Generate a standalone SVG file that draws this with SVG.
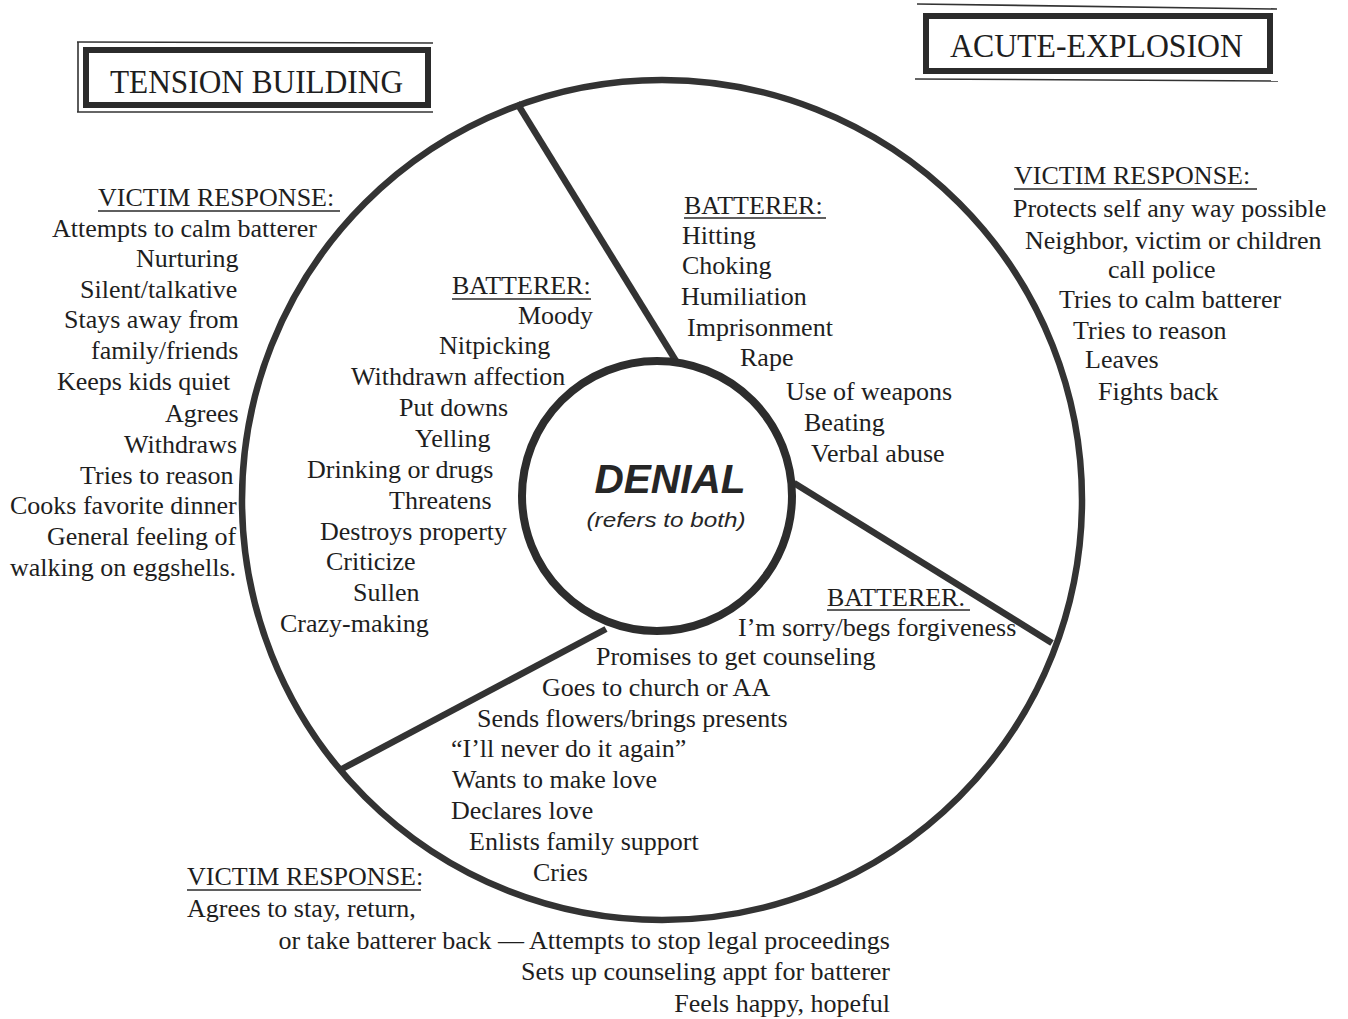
<svg xmlns="http://www.w3.org/2000/svg" width="1348" height="1019" viewBox="0 0 1348 1019">
<style>
  .t { font-family: "Liberation Serif", "Times New Roman", serif; font-size: 26px; fill: #1e1e1e; }
  .h { font-family: "Liberation Serif", "Times New Roman", serif; fill: #1e1e1e; }
  .ul { stroke: #2a2a2a; stroke-width: 1.6; }
  .ring { fill: none; stroke: #333; stroke-width: 6.5; }
  .div { stroke: #333; stroke-width: 6.5; stroke-linecap: butt; }
  .thin { fill: none; stroke: #333; stroke-width: 1.6; }
  .thick { fill: none; stroke: #2b2b2b; stroke-width: 6; }
</style>
<rect width="1348" height="1019" fill="#ffffff"/>

<g id="title-tension">
  <line class="thin" x1="77" y1="42" x2="433" y2="43"/>
  <line class="thin" x1="77" y1="112" x2="433" y2="112"/>
  <line class="thin" x1="78" y1="42" x2="78" y2="112"/>
  <rect class="thick" x="86" y="50" width="342" height="55"/>
  <text class="h" x="110" y="93" font-size="33" textLength="293" lengthAdjust="spacingAndGlyphs">TENSION BUILDING</text>
</g>

<g id="title-acute">
  <line class="thin" x1="917" y1="4" x2="1277" y2="9"/>
  <line class="thin" x1="915" y1="79" x2="1278" y2="81"/>
  <rect class="thick" x="926" y="16" width="344" height="55"/>
  <text class="h" x="950" y="57" font-size="34" textLength="293" lengthAdjust="spacingAndGlyphs">ACUTE-EXPLOSION</text>
</g>

<g id="wheel">
  <circle class="ring" cx="662" cy="500" r="420"/>
</g>

<g id="connectors">
  <line class="div" x1="517" y1="103" x2="676" y2="361"/>
  <line class="div" x1="794" y1="483" x2="1052" y2="643"/>
  <line class="div" x1="606" y1="629" x2="340" y2="770"/>
</g>

<g id="denial">
  <circle cx="657" cy="496" r="135" fill="#fff" stroke="#2d2d2d" stroke-width="8"/>
  <text x="670" y="493" text-anchor="middle" font-family="Liberation Sans, Arial, sans-serif" font-size="40" font-weight="bold" font-style="italic" fill="#262626" textLength="151" lengthAdjust="spacingAndGlyphs">DENIAL</text>
  <text x="666" y="527" text-anchor="middle" font-family="Liberation Sans, Arial, sans-serif" font-size="21" font-style="italic" fill="#262626" textLength="159" lengthAdjust="spacingAndGlyphs">(refers to both)</text>
</g>

<g id="tension-victim">
  <text class="t" x="98" y="206">VICTIM RESPONSE:</text>
  <line class="ul" x1="98" y1="211" x2="340" y2="211"/>
  <text class="t" x="52" y="237">Attempts to calm batterer</text>
  <text class="t" x="136" y="267">Nurturing</text>
  <text class="t" x="80" y="298">Silent/talkative</text>
  <text class="t" x="64" y="328">Stays away from</text>
  <text class="t" x="91" y="359">family/friends</text>
  <text class="t" x="57" y="390">Keeps kids quiet</text>
  <text class="t" x="165" y="422">Agrees</text>
  <text class="t" x="124" y="453">Withdraws</text>
  <text class="t" x="80" y="484">Tries to reason</text>
  <text class="t" x="10" y="514">Cooks favorite dinner</text>
  <text class="t" x="47" y="545">General feeling of</text>
  <text class="t" x="10" y="576">walking on eggshells.</text>
</g>

<g id="tension-batterer">
  <text class="t" x="452" y="294">BATTERER:</text>
  <line class="ul" x1="452" y1="299" x2="591" y2="299"/>
  <text class="t" x="518" y="324">Moody</text>
  <text class="t" x="439" y="354">Nitpicking</text>
  <text class="t" x="351" y="385">Withdrawn affection</text>
  <text class="t" x="399" y="416">Put downs</text>
  <text class="t" x="415" y="447">Yelling</text>
  <text class="t" x="307" y="478">Drinking or drugs</text>
  <text class="t" x="389" y="509">Threatens</text>
  <text class="t" x="320" y="540">Destroys property</text>
  <text class="t" x="326" y="570">Criticize</text>
  <text class="t" x="353" y="601">Sullen</text>
  <text class="t" x="280" y="632">Crazy-making</text>
</g>

<g id="acute-batterer">
  <text class="t" x="684" y="214">BATTERER:</text>
  <line class="ul" x1="684" y1="218" x2="826" y2="218"/>
  <text class="t" x="682" y="244">Hitting</text>
  <text class="t" x="682" y="274">Choking</text>
  <text class="t" x="681" y="305">Humiliation</text>
  <text class="t" x="687" y="336">Imprisonment</text>
  <text class="t" x="740" y="366">Rape</text>
  <text class="t" x="786" y="400">Use of weapons</text>
  <text class="t" x="804" y="431">Beating</text>
  <text class="t" x="811" y="462">Verbal abuse</text>
</g>

<g id="acute-victim">
  <text class="t" x="1014" y="184">VICTIM RESPONSE:</text>
  <line class="ul" x1="1014" y1="189" x2="1257" y2="189"/>
  <text class="t" x="1013" y="217">Protects self any way possible</text>
  <text class="t" x="1025" y="249">Neighbor, victim or children</text>
  <text class="t" x="1108" y="278">call police</text>
  <text class="t" x="1059" y="308">Tries to calm batterer</text>
  <text class="t" x="1073" y="339">Tries to reason</text>
  <text class="t" x="1085" y="368">Leaves</text>
  <text class="t" x="1098" y="400">Fights back</text>
</g>

<g id="honeymoon-batterer">
  <text class="t" x="827" y="606">BATTERER.</text>
  <line class="ul" x1="827" y1="610" x2="970" y2="610"/>
  <text class="t" x="738" y="636">I’m sorry/begs forgiveness</text>
  <text class="t" x="596" y="665">Promises to get counseling</text>
  <text class="t" x="542" y="696">Goes to church or AA</text>
  <text class="t" x="477" y="727">Sends flowers/brings presents</text>
  <text class="t" x="451" y="757">“I’ll never do it again”</text>
  <text class="t" x="452" y="788">Wants to make love</text>
  <text class="t" x="451" y="819">Declares love</text>
  <text class="t" x="469" y="850">Enlists family support</text>
  <text class="t" x="533" y="881">Cries</text>
</g>

<g id="honeymoon-victim">
  <text class="t" x="187" y="885">VICTIM RESPONSE:</text>
  <line class="ul" x1="187" y1="890" x2="421" y2="890"/>
  <text class="t" x="187" y="917">Agrees to stay, return,</text>
  <text class="t" x="890" y="949" text-anchor="end">or take batterer back — Attempts to stop legal proceedings</text>
  <text class="t" x="890" y="980" text-anchor="end">Sets up counseling appt for batterer</text>
  <text class="t" x="890" y="1012" text-anchor="end">Feels happy, hopeful</text>
</g>
</svg>
